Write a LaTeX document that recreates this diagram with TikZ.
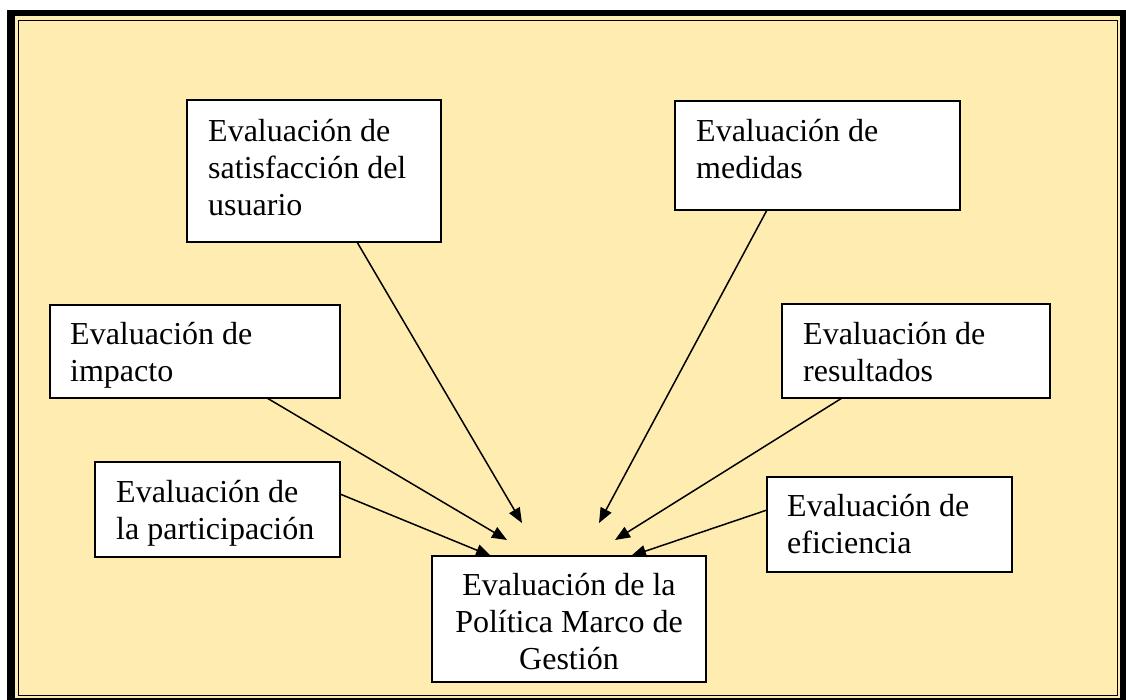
\documentclass[tikz,border=0pt]{standalone}
\usepackage{fontspec}
\setmainfont{Liberation Serif}
\usetikzlibrary{arrows.meta,calc}
\definecolor{paper}{RGB}{255,236,176}
\tikzset{
  box/.style={draw=black, line width=1.8pt, fill=white, anchor=north west, inner sep=0pt, outer sep=0pt},
  lbl/.style={anchor=north west, inner sep=0pt, align=left, font=\fontsize{32}{36.8}\selectfont},
  arr/.style={line width=1.5pt, -{Triangle[length=15pt,width=12pt]}},
}
\begin{document}
\begin{tikzpicture}[x=1pt,y=-1pt]
\useasboundingbox (0,0) rectangle (1126,700);
\clip (0,0) rectangle (1126,700);
\fill[white] (0,0) rectangle (1126,700);
\fill[black] (7,10) rectangle (1134,708);
\fill[paper] (15,16) rectangle (1120,698);
\draw[line width=1.3pt] (18.5,20.5) rectangle (1117.5,695.5);

% boxes
\node[box, minimum width=254, minimum height=142] (b1) at (187,100) {};
\node[box, minimum width=285, minimum height=109] (b2) at (675,101) {};
\node[box, minimum width=290, minimum height=93]  (b3) at (50,305) {};
\node[box, minimum width=268, minimum height=94]  (b4) at (782,304) {};
\node[box, minimum width=245, minimum height=95]  (b5) at (95,462) {};
\node[box, minimum width=245, minimum height=95]  (b6) at (767,477) {};
\node[box, minimum width=274, minimum height=126] (b7) at (432,556) {};

% labels
\node[lbl] (t1) at ($(b1.north west)+(21,16)$) {\strut Evaluación de\\\strut satisfacción del\\\strut usuario};
\node[lbl] (t2) at ($(b2.north west)+(21,15)$) {\strut Evaluación de\\\strut medidas};
\node[lbl] (t3) at ($(b3.north west)+(20,14)$) {\strut Evaluación de\\\strut impacto};
\node[lbl] (t4) at ($(b4.north west)+(21,15)$) {\strut Evaluación de\\\strut resultados};
\node[lbl] (t5) at ($(b5.north west)+(21,15)$) {\strut Evaluación de\\\strut la participación};
\node[lbl] (t6) at ($(b6.north west)+(20,14)$) {\strut Evaluación de\\\strut eficiencia};
\node[lbl, anchor=north, align=center] (t7) at ($(b7.north)+(0,14)$) {\strut Evaluación de la\\\strut Política Marco de\\\strut Gestión};

% free arrow ends
\coordinate (e1) at (522,523);
\coordinate (e2) at (599,523);
\coordinate (e3) at (507,540);
\coordinate (e4) at (615,540);

% connectors
\draw[arr] ($(b1.south west)+(170,0)$) -- (e1);
\draw[arr] ($(b2.south west)+(92,0)$) -- (e2);
\draw[arr] ($(b3.south west)+(217,0)$) -- (e3);
\draw[arr] ($(b4.south west)+(60,0)$) -- (e4);
\draw[arr] ($(b5.north east)+(0,32)$) -- ($(b7.north west)+(59,0)$);
\draw[arr] ($(b6.north west)+(0,33)$) -- ($(b7.north west)+(199,0)$);
\end{tikzpicture}
\end{document}
